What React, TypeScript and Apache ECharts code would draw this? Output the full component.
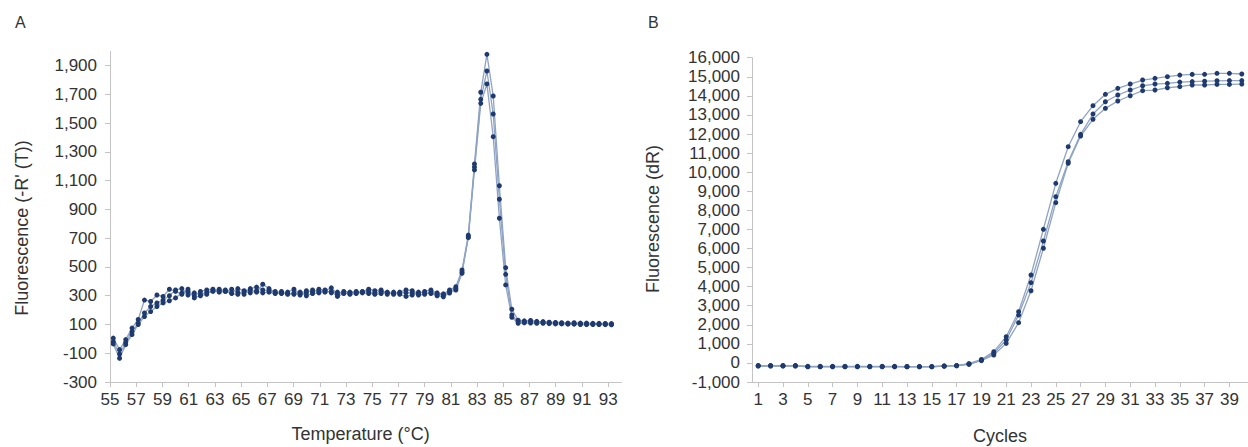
import React, { useEffect, useRef } from "react";
import * as echarts from "echarts";

// ---------- Panel A : melt curve ----------
const meltTemps = [
  55.25, 55.73, 56.2, 56.68, 57.15, 57.63, 58.1, 58.58, 59.05, 59.53,
  60.0, 60.48, 60.95, 61.43, 61.9, 62.38, 62.85, 63.33, 63.8, 64.28,
  64.75, 65.23, 65.7, 66.18, 66.65, 67.13, 67.6, 68.08, 68.55, 69.03,
  69.5, 69.98, 70.45, 70.93, 71.4, 71.88, 72.35, 72.83, 73.3, 73.78,
  74.25, 74.73, 75.2, 75.68, 76.15, 76.63, 77.1, 77.58, 78.05, 78.53,
  79.0, 79.48, 79.95, 80.43, 80.9, 81.38, 81.85, 82.33, 82.8, 83.28,
  83.75, 84.23, 84.7, 85.18, 85.65, 86.13, 86.6, 87.08, 87.55, 88.03,
  88.5, 88.98, 89.45, 89.93, 90.4, 90.88, 91.35, 91.83, 92.3, 92.78, 93.25,
];
const meltA = [
  5, -75, -5, 75, 135, 270, 260, 305, 295, 345,
  330, 310, 330, 300, 330, 340, 345, 335, 340, 320,
  350, 335, 340, 325, 380, 350, 320, 315, 325, 345,
  315, 335, 325, 345, 335, 355, 310, 330, 325, 320,
  330, 345, 335, 340, 320, 315, 325, 340, 335, 315,
  330, 340, 320, 313, 340, 363, 479, 722, 1216, 1715,
  1979, 1689, 1065, 495, 206, 130, 125, 128, 122, 120,
  116, 114, 112, 110, 112, 110, 110, 108, 108, 107, 106,
];
const meltB = [
  -20, -105, -25, 50, 110, 180, 225, 250, 270, 300,
  340, 350, 305, 320, 310, 325, 330, 345, 330, 345,
  325, 310, 350, 360, 340, 335, 330, 320, 310, 320,
  305, 320, 340, 330, 325, 330, 295, 315, 320, 330,
  320, 315, 320, 330, 310, 325, 310, 295, 305, 325,
  320, 315, 300, 293, 319, 340, 456, 712, 1195, 1666,
  1863, 1564, 971, 449, 166, 119, 118, 120, 115, 114,
  112, 110, 108, 106, 106, 105, 104, 104, 103, 103, 102,
];
const meltC = [
  -35, -135, -40, 30, 100, 155, 190, 225, 250, 265,
  285, 320, 345, 285, 300, 310, 335, 325, 330, 315,
  310, 330, 320, 335, 320, 325, 315, 330, 315, 310,
  325, 300, 315, 320, 340, 320, 325, 320, 310, 315,
  325, 330, 310, 315, 325, 310, 320, 320, 320, 305,
  310, 325, 310, 305, 330, 350, 465, 704, 1175, 1638,
  1773, 1406, 839, 375, 150, 108, 112, 110, 108, 108,
  106, 104, 104, 102, 102, 100, 100, 100, 100, 99, 98,
];
const meltYTicks = [-300, -100, 100, 300, 500, 700, 900, 1100, 1300, 1500, 1700, 1900];
const meltXTicks = [55, 57, 59, 61, 63, 65, 67, 69, 71, 73, 75, 77, 79, 81, 83, 85, 87, 89, 91, 93];

// ---------- Panel B : amplification ----------
const cycles = [
  "1", "2", "3", "4", "5", "6", "7", "8", "9", "10",
  "11", "12", "13", "14", "15", "16", "17", "18", "19", "20",
  "21", "22", "23", "24", "25", "26", "27", "28", "29", "30",
  "31", "32", "33", "34", "35", "36", "37", "38", "39", "40",
];
const ampA = [
  -140, -140, -140, -140, -180, -180, -180, -180, -180, -180,
  -180, -180, -190, -190, -190, -160, -140, -40, 180, 590,
  1375, 2685, 4610, 7005, 9415, 11335, 12645, 13485, 14080, 14395,
  14620, 14830, 14920, 15005, 15090, 15125, 15130, 15180, 15180, 15145,
];
const ampB = [
  -150, -150, -150, -150, -190, -190, -190, -190, -190, -190,
  -190, -190, -195, -195, -195, -165, -145, -55, 150, 500,
  1200, 2510, 4205, 6390, 8715, 10545, 11985, 13050, 13690, 14045,
  14305, 14530, 14620, 14655, 14720, 14750, 14770, 14790, 14800, 14800,
];
const ampC = [
  -160, -160, -160, -160, -200, -200, -200, -200, -200, -200,
  -200, -200, -200, -200, -200, -170, -150, -70, 120, 415,
  1025, 2110, 3785, 6010, 8400, 10465, 11895, 12770, 13345, 13730,
  14005, 14270, 14305, 14425, 14480, 14570, 14570, 14600, 14600, 14620,
];

const FONT = "'Liberation Sans', Arial, sans-serif";
const TEXT = "#333333";
const AXIS = "#c4c4c4";
const LINE = "#8fa3c4";
const MARK = "#1f3a6e";

const fmt = (v: number) => Math.round(v).toLocaleString("en-US");

export default function App() {
  const ref = useRef<HTMLDivElement>(null);

  useEffect(() => {
    document.body.style.margin = "0";
    if (!ref.current) return;
    const chart = echarts.init(ref.current, undefined, { renderer: "svg" });

    const lineSeries = (
      data: any[],
      xAxisIndex: number,
      yAxisIndex: number,
      name: string
    ) => ({
      type: "line",
      name,
      xAxisIndex,
      yAxisIndex,
      data,
      symbol: "circle",
      symbolSize: 5,
      showSymbol: true,
      lineStyle: { color: LINE, width: 1.3 },
      itemStyle: { color: MARK },
      emphasis: { disabled: true },
    });

    const axisCommon = {
      axisLine: { show: true, onZero: false, lineStyle: { color: AXIS, width: 1 } },
      axisTick: { show: true, inside: false, length: 5, lineStyle: { color: AXIS } },
      splitLine: { show: false },
    };

    const labelStyle = { color: TEXT, fontFamily: FONT, fontSize: 17 };

    chart.setOption({
      animation: false,
      backgroundColor: "#ffffff",
      grid: [
        { left: 110, top: 51.3, width: 511.3, height: 330.7 },
        { left: 752, top: 57.7, width: 496.8, height: 324.3 },
      ],
      xAxis: [
        {
          type: "value",
          gridIndex: 0,
          min: 55,
          max: 94,
          ...axisCommon,
          axisTick: { ...axisCommon.axisTick, customValues: meltXTicks },
          axisLabel: { ...labelStyle, margin: 9, customValues: meltXTicks, formatter: (v: number) => String(v) },
        },
        {
          type: "category",
          gridIndex: 1,
          data: cycles,
          boundaryGap: true,
          ...axisCommon,
          axisTick: { ...axisCommon.axisTick, interval: 1, alignWithLabel: true },
          axisLabel: { ...labelStyle, margin: 9, interval: 1 },
        },
      ],
      yAxis: [
        {
          type: "value",
          gridIndex: 0,
          min: -300,
          max: 2000,
          ...axisCommon,
          axisTick: { ...axisCommon.axisTick, customValues: meltYTicks },
          axisLabel: { ...labelStyle, margin: 13, customValues: meltYTicks, formatter: fmt },
        },
        {
          type: "value",
          gridIndex: 1,
          min: -1000,
          max: 16000,
          interval: 1000,
          ...axisCommon,
          axisLabel: { ...labelStyle, margin: 12, formatter: fmt },
        },
      ],
      series: [
        lineSeries(meltTemps.map((t, i) => [t, meltA[i]]), 0, 0, "A1"),
        lineSeries(meltTemps.map((t, i) => [t, meltB[i]]), 0, 0, "A2"),
        lineSeries(meltTemps.map((t, i) => [t, meltC[i]]), 0, 0, "A3"),
        lineSeries(ampA, 1, 1, "B1"),
        lineSeries(ampB, 1, 1, "B2"),
        lineSeries(ampC, 1, 1, "B3"),
      ],
      graphic: [
        {
          type: "text",
          x: 15,
          y: 22.5,
          style: { text: "A", fill: TEXT, font: `16px ${FONT}`, textAlign: "left", textVerticalAlign: "middle" },
        },
        {
          type: "text",
          x: 648,
          y: 22.5,
          style: { text: "B", fill: TEXT, font: `16px ${FONT}`, textAlign: "left", textVerticalAlign: "middle" },
        },
        {
          type: "text",
          x: 21.7,
          y: 228,
          rotation: Math.PI / 2,
          style: {
            text: "Fluorescence (-R' (T))",
            fill: TEXT,
            font: `18px ${FONT}`,
            textAlign: "center",
            textVerticalAlign: "middle",
          },
        },
        {
          type: "text",
          x: 653,
          y: 219,
          rotation: Math.PI / 2,
          style: {
            text: "Fluorescence (dR)",
            fill: TEXT,
            font: `18px ${FONT}`,
            textAlign: "center",
            textVerticalAlign: "middle",
          },
        },
        {
          type: "text",
          x: 360.5,
          y: 434,
          style: {
            text: "Temperature (°C)",
            fill: TEXT,
            font: `18px ${FONT}`,
            textAlign: "center",
            textVerticalAlign: "middle",
          },
        },
        {
          type: "text",
          x: 1000,
          y: 436,
          style: {
            text: "Cycles",
            fill: TEXT,
            font: `18px ${FONT}`,
            textAlign: "center",
            textVerticalAlign: "middle",
          },
        },
      ],
    });

    return () => chart.dispose();
  }, []);

  return <div ref={ref} style={{ width: 1248, height: 447 }} />;
}
